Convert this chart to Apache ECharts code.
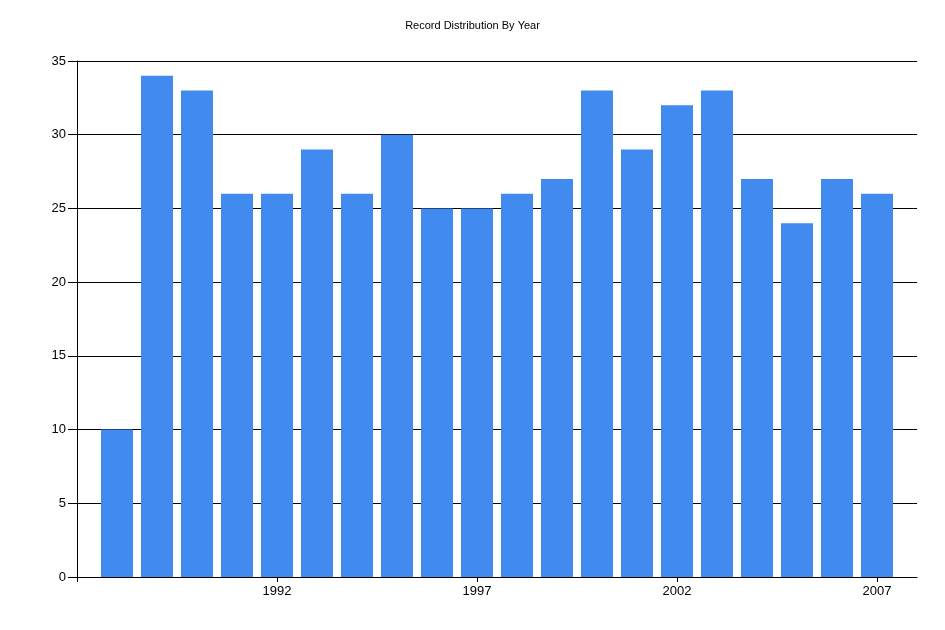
<!DOCTYPE html>
<html style="height: 100%">
<head>
    <meta charset="utf-8">
</head>
<body style="height: 100%; margin: 0; background: #fff">
<div id="container" style="width: 945px; height: 630px"></div>
<script type="text/javascript" src="https://cdn.jsdelivr.net/npm/echarts@6/dist/echarts.min.js"></script>
<script type="text/javascript">
var years = [1988, 1989, 1990, 1991, 1992, 1993, 1994, 1995, 1996, 1997,
             1998, 1999, 2000, 2001, 2002, 2003, 2004, 2005, 2006, 2007];
var records = [10, 34, 33, 26, 26, 29, 26, 30, 25, 25,
               26, 27, 33, 29, 32, 33, 27, 24, 27, 26];
var yTicks = [0, 5, 10, 15, 20, 25, 30, 35];

var chart = echarts.init(document.getElementById('container'));
var font = 'Liberation Sans';

var option = {
    animation: false,
    backgroundColor: '#fff',
    title: {
        text: 'Record Distribution By Year',
        left: 'center',
        top: 15,
        textStyle: { fontFamily: font, fontSize: 11, fontWeight: 'normal', color: '#000' }
    },
    grid: { left: 77, right: 28, top: 61, bottom: 53, containLabel: false },
    xAxis: {
        type: 'value',
        min: 1987,
        max: 2008,
        interval: 5,
        axisLine: { lineStyle: { color: '#000', width: 1 } },
        axisTick: { show: true, length: 5, inside: false, lineStyle: { color: '#000' } },
        axisLabel: {
            fontFamily: font, fontSize: 13, color: '#000', margin: 8,
            showMaxLabel: false,
            formatter: function (v) { return years.indexOf(v) >= 0 ? String(v) : ''; }
        },
        splitLine: { show: false }
    },
    yAxis: {
        type: 'value',
        min: yTicks[0],
        max: yTicks[yTicks.length - 1],
        interval: 5,
        axisLine: { show: true, lineStyle: { color: '#000', width: 1 } },
        axisTick: { show: true, length: 9, lineStyle: { color: '#000' } },
        axisLabel: { fontFamily: font, fontSize: 13, color: '#000', margin: 11 },
        splitLine: { show: true, lineStyle: { color: '#000', width: 1 } }
    },
    series: [{
        type: 'bar',
        barWidth: 32,
        itemStyle: { color: '#418AF0' },
        data: years.map(function (y, i) { return [y, records[i]]; })
    }]
};

chart.setOption(option);
</script>
</body>
</html>
